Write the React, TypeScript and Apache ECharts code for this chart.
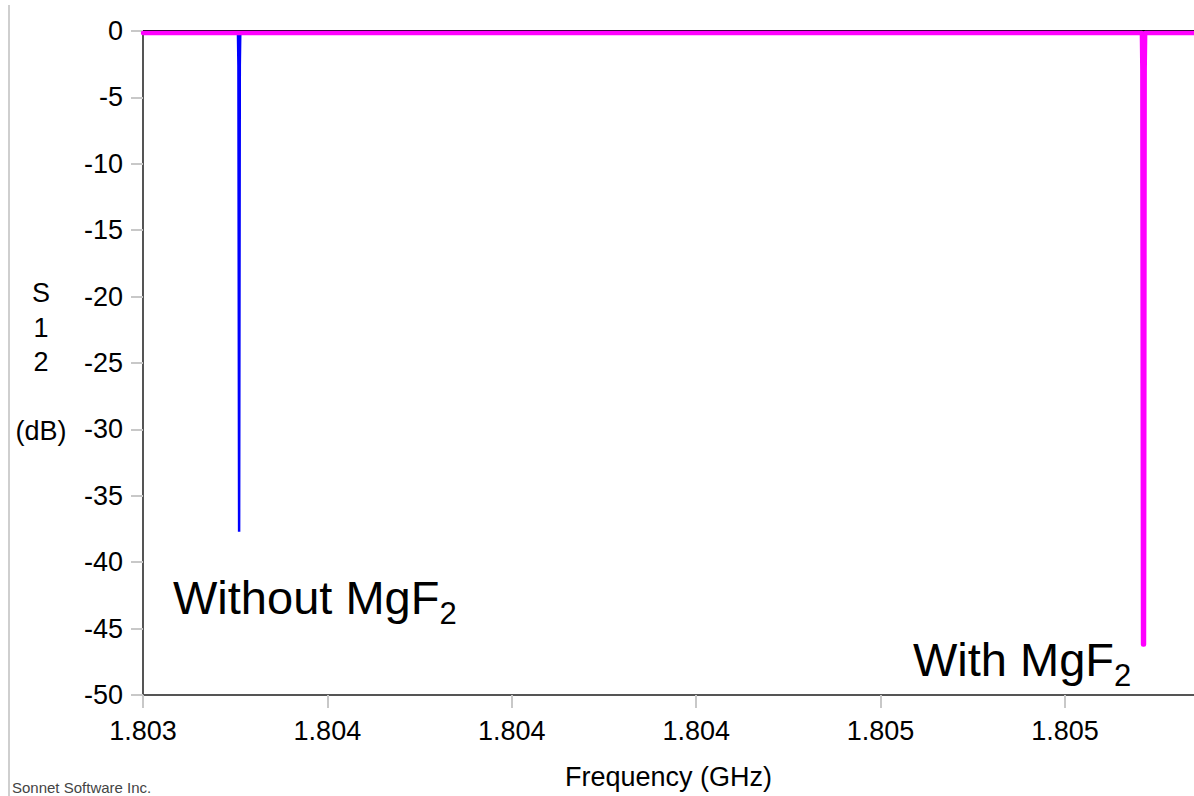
import React, { useEffect, useRef } from "react";
import * as echarts from "echarts";

// Frequency axis (GHz)
const xMinGHz = 1.8032;
const xStepGHz = 0.0004;
const xMaxGHz = 1.80548;
const xUnitGHz = 1e-4; // axis works in units of 1e-4 GHz to keep ticks exact

// S12 axis (dB)
const yMin = -50;
const yMax = 0;
const yStep = 5;

// Series: without MgF2 (blue)
const freqWithout = [1.8032, 1.803406, 1.803407, 1.8034085, 1.80341, 1.803411, 1.80548];
const s12Without = [-0.15, -0.15, -2.6, -37.7, -2.6, -0.15, -0.15];

// Series: with MgF2 (magenta)
const freqWith = [1.8032, 1.805367, 1.805368, 1.8053695, 1.8053715, 1.805373, 1.805374, 1.80548];
const s12With = [-0.15, -0.15, -2.9, -46.2, -46.2, -2.9, -0.15, -0.15];

const seriesNames = ["Without MgF2", "With MgF2"];
const xAxisTitle = "Frequency (GHz)";
const yAxisTitle = "S\n1\n2\n\n(dB)";
const footer = "Sonnet Software Inc.";

const FONT = "'Liberation Sans', Arial, Helvetica, sans-serif";

const toUnit = (f: number) => f / xUnitGHz;

export default function App() {
  const ref = useRef<HTMLDivElement>(null);

  useEffect(() => {
    if (!ref.current) return;
    document.body.style.margin = "0";
    const chart = echarts.init(ref.current, undefined, { renderer: "svg" });

    const xMin = Math.round(xMinGHz / xUnitGHz);
    const xMax = xMaxGHz / xUnitGHz;
    const xInterval = Math.round(xStepGHz / xUnitGHz);

    const richLabel = (main: string, sub: string) => ({
      text: `{m|${main}}{s|${sub}}`,
      verticalAlign: "top",
      align: "left",
      rich: {
        m: { fontSize: 47, lineHeight: 64, fontFamily: FONT, fill: "#000", color: "#000" },
        s: { fontSize: 31, lineHeight: 31, fontFamily: FONT, fill: "#000", color: "#000", verticalAlign: "bottom" },
      },
    });

    chart.setOption({
      animation: false,
      backgroundColor: "#ffffff",
      textStyle: { fontFamily: FONT },
      grid: { left: 143, right: 0, top: 31, bottom: 101, containLabel: false },
      xAxis: [
        {
          type: "value",
          min: xMin,
          max: xMax,
          interval: xInterval,
          position: "bottom",
          name: xAxisTitle,
          nameLocation: "middle",
          nameGap: 82,
          nameTextStyle: { fontSize: 27, color: "#000", fontFamily: FONT, verticalAlign: "middle" },
          axisLine: { show: true, onZero: false, lineStyle: { color: "#555", width: 2 } },
          axisTick: { show: true, length: 13, lineStyle: { color: "#c8c8c8", width: 2 } },
          axisLabel: {
            fontSize: 27,
            color: "#000",
            fontFamily: FONT,
            margin: 22,
            showMaxLabel: false,
            formatter: (v: number) => (v * xUnitGHz).toFixed(3),
          },
          splitLine: { show: false },
        },
        {
          type: "value",
          min: xMin,
          max: xMax,
          interval: xInterval,
          position: "top",
          axisLine: { show: true, onZero: false, lineStyle: { color: "#000", width: 2 } },
          axisTick: { show: false },
          axisLabel: { show: false },
          splitLine: { show: false },
        },
      ],
      yAxis: {
        type: "value",
        min: yMin,
        max: yMax,
        interval: yStep,
        axisLine: { show: true, onZero: false, lineStyle: { color: "#555", width: 2 } },
        axisTick: { show: true, length: 12, lineStyle: { color: "#c8c8c8", width: 2 } },
        axisLabel: { fontSize: 27, color: "#000", fontFamily: FONT, margin: 20 },
        splitLine: { show: false },
      },
      series: [
        {
          name: seriesNames[0],
          type: "line",
          xAxisIndex: 0,
          data: freqWithout.map((f, i) => [toUnit(f), s12Without[i]]),
          showSymbol: false,
          symbol: "none",
          lineStyle: { color: "#0000ff", width: 2.5 },
          z: 2,
        },
        {
          name: seriesNames[1],
          type: "line",
          xAxisIndex: 0,
          data: freqWith.map((f, i) => [toUnit(f), s12With[i]]),
          showSymbol: false,
          symbol: "none",
          lineStyle: { color: "#ff00ff", width: 4.5, cap: "round", join: "round" },
          z: 3,
        },
      ],
      graphic: [
        {
          type: "line",
          silent: true,
          shape: { x1: 9, y1: 5, x2: 9, y2: 796 },
          style: { stroke: "#cfcfcf", lineWidth: 2 },
        },
        {
          type: "text",
          silent: true,
          x: 41,
          y: 362,
          style: {
            text: yAxisTitle,
            fontSize: 27,
            fontFamily: FONT,
            lineHeight: 34.5,
            align: "center",
            verticalAlign: "middle",
            fill: "#000",
          },
        },
        {
          type: "text",
          silent: true,
          x: 12,
          y: 787,
          style: {
            text: footer,
            fontSize: 15,
            fontFamily: FONT,
            verticalAlign: "middle",
            fill: "#444",
          },
        },
        {
          type: "text",
          silent: true,
          x: 173,
          y: 565,
          style: richLabel("Without MgF", "2"),
        },
        {
          type: "text",
          silent: true,
          x: 913,
          y: 627,
          style: richLabel("With MgF", "2"),
        },
      ],
    } as any);

    return () => chart.dispose();
  }, []);

  return (
    <div
      ref={ref}
      style={{ position: "absolute", left: 0, top: 0, width: 1194, height: 796, background: "#fff" }}
    />
  );
}
